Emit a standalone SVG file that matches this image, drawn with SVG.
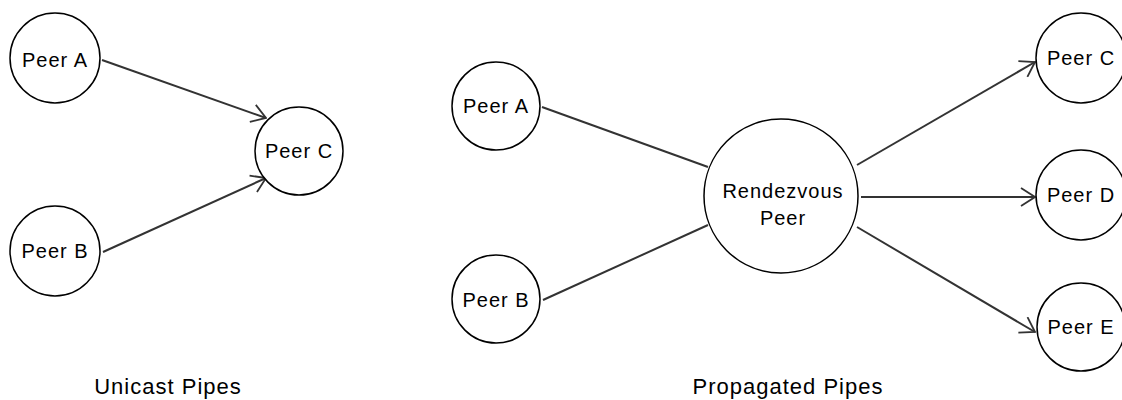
<svg xmlns="http://www.w3.org/2000/svg" width="1122" height="400" viewBox="0 0 1122 400">
  <style>
    .node circle { fill: #fff; stroke: #000; stroke-width: 1.5; }
    .node text, .caption { font-family: "Liberation Sans", Arial, sans-serif; fill: #000; text-anchor: middle; }
    .node text { font-size: 20px; letter-spacing: 1px; }
    .caption { font-size: 22px; letter-spacing: 1px; }
    .edge { stroke: #333; stroke-width: 2; fill: none; }
  </style>
  <defs>
    <marker id="open-arrow" viewBox="0 0 16 20" refX="15" refY="10" markerWidth="16" markerHeight="20" markerUnits="userSpaceOnUse" orient="auto">
      <path d="M1,1 L15,10 L1,19" fill="none" stroke="#333" stroke-width="1.8"/>
    </marker>
  </defs>
  <rect width="1122" height="400" fill="#fff"/>

  <!-- connectors -->
  <g id="connectors">
    <line class="edge" x1="102" y1="60" x2="266" y2="118" marker-end="url(#open-arrow)"/>
    <line class="edge" x1="103" y1="252" x2="266" y2="178" marker-end="url(#open-arrow)"/>
    <line class="edge" x1="542" y1="107" x2="708" y2="167"/>
    <line class="edge" x1="543" y1="300" x2="708" y2="225"/>
    <line class="edge" x1="857" y1="165" x2="1035" y2="62" marker-end="url(#open-arrow)"/>
    <line class="edge" x1="861" y1="197" x2="1035" y2="197" marker-end="url(#open-arrow)"/>
    <line class="edge" x1="857" y1="227" x2="1035" y2="332" marker-end="url(#open-arrow)"/>
  </g>

  <!-- unicast pipes -->
  <g id="u-peer-a" class="node"><circle cx="55" cy="58" r="45"/><text x="55" y="67">Peer A</text></g>
  <g id="u-peer-b" class="node"><circle cx="55" cy="251" r="45"/><text x="55" y="258">Peer B</text></g>
  <g id="u-peer-c" class="node"><circle cx="299" cy="151" r="44"/><text x="299" y="158">Peer C</text></g>

  <!-- propagated pipes -->
  <g id="p-peer-a" class="node"><circle cx="496" cy="106" r="44"/><text x="496" y="113">Peer A</text></g>
  <g id="p-peer-b" class="node"><circle cx="496" cy="299" r="44"/><text x="496" y="307">Peer B</text></g>
  <g id="rendezvous" class="node"><circle cx="781" cy="196" r="77"/><text x="783" y="198">Rendezvous</text><text x="783" y="225">Peer</text></g>
  <g id="p-peer-c" class="node"><circle cx="1081" cy="58" r="45"/><text x="1081" y="65">Peer C</text></g>
  <g id="p-peer-d" class="node"><circle cx="1081" cy="195" r="45"/><text x="1081" y="202">Peer D</text></g>
  <g id="p-peer-e" class="node"><circle cx="1081" cy="327" r="44"/><text x="1081" y="334">Peer E</text></g>

  <text class="caption" x="168" y="394">Unicast Pipes</text>
  <text class="caption" x="788" y="394">Propagated Pipes</text>
</svg>
